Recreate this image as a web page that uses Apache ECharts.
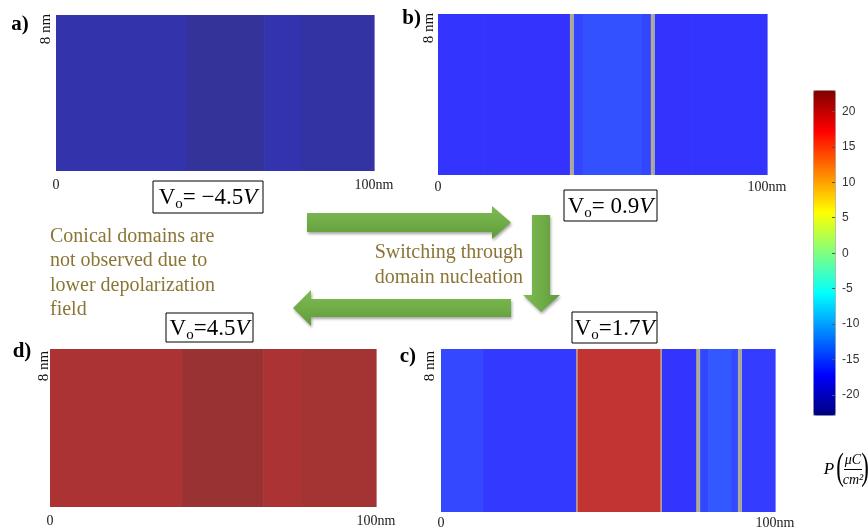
<!DOCTYPE html>
<html><head><meta charset="utf-8">
<script src="https://cdn.jsdelivr.net/npm/echarts@6/dist/echarts.min.js"></script>
<style>html,body{margin:0;padding:0;background:#fff}#c{width:868px;height:531px}</style>
</head><body><div id="c"></div>
<script>
// ---- data ----
const xTickLabels = ['0', '100nm'];           // x axis end labels (0 nm, 100 nm)
const cbTicks = [-20, -15, -10, -5, 0, 5, 10, 15, 20];
const pMin = -22.8, pMax = 23;                // colour scale range, P (uC/cm^2)
// domains: [start nm, end nm, P]
const aDomains = [[0, 41, -21.8], [41, 65.5, -22.8], [65.5, 77, -21.6], [77, 100, -22.2]];
const bDomains = [[0, 14, -17.0], [14, 40.7, -17.2], [40.7, 44, -16.1], [44, 62, -15.4], [62, 65.3, -16.1], [65.3, 77, -17.2], [77, 100, -17.0]];
const cDomains = [[0, 12.7, -15.9], [12.7, 40.7, -16.7], [40.7, 65.9, 20.7], [65.9, 77, -17.0], [77, 80, -16.0], [80, 87, -15.0], [87, 89.5, -15.8], [89.5, 100, -16.6]];
const dDomains = [[0, 40.7, 22.0], [40.7, 65.4, 23], [65.4, 77, 22.0], [77, 100, 22.4]];
const bWalls = [40.7, 65.3];
const cWalls = [77, 89.5];
const cThinWalls = [40.7, 65.9];
const panelLabels = ['a)', 'b)', 'c)', 'd)'];
const voltTexts = ['= −4.5', '= 0.9', '=1.7', '=4.5'];
const noteLeft = ['Conical domains are', 'not observed due to', 'lower depolarization', 'field'];
const noteMid = ['Switching through', 'domain nucleation'];

// ---- layout ----
const grids = [
  {left: 56, top: 15, width: 318, height: 156},
  {left: 438, top: 14, width: 329, height: 161},
  {left: 441, top: 349, width: 334, height: 163},
  {left: 50, top: 349, width: 326, height: 158}
];
const labelMargins = [7, 5, 4, 7];
const domainSets = [aDomains, bDomains, cDomains, dDomains];
const jet = ['#000080', '#0000ff', '#0080ff', '#00ffff', '#80ff80', '#ffff00', '#ff8000', '#ff0000', '#800000'];
const serif = 'Liberation Serif';

function renderDomain(params, api) {
  const tl = api.coord([api.value(0), 8]);
  const br = api.coord([api.value(1), 0]);
  const c = echarts.color.lerp(0.2, [api.visual('color'), '#ffffff']);
  return {type: 'rect', shape: {x: tl[0], y: tl[1], width: br[0] - tl[0] + 0.6, height: br[1] - tl[1]}, style: {fill: c}};
}
function wallRenderer(w, thin) {
  return function (params, api) {
    const tl = api.coord([api.value(0), 8]);
    const br = api.coord([api.value(0), 0]);
    const fill = thin ? '#cfa890' : new echarts.graphic.LinearGradient(0, 0, 1, 0, [
      {offset: 0, color: '#d49a7a'}, {offset: 0.35, color: '#9fb89c'}, {offset: 0.65, color: '#a3a3a0'}, {offset: 1, color: '#b5b5b0'}]);
    return {type: 'rect', shape: {x: tl[0] - w / 2, y: tl[1], width: w, height: br[1] - tl[1]}, style: {fill: fill}};
  };
}

const xAxes = [], yAxes = [], series = [];
grids.forEach((g, i) => {
  xAxes.push({gridIndex: i, type: 'value', min: 0, max: 100, interval: 100,
    axisLine: {show: false}, axisTick: {show: false}, splitLine: {show: false},
    axisLabel: {margin: labelMargins[i], color: '#222', fontFamily: serif, fontSize: 14,
      formatter: v => v === 0 ? xTickLabels[0] : xTickLabels[1]}});
  yAxes.push({gridIndex: i, type: 'value', min: 0, max: 8, show: false});
  series.push({type: 'custom', xAxisIndex: i, yAxisIndex: i, silent: true,
    dimensions: ['x0', 'x1', 'p'], encode: {x: [0, 1]},
    data: domainSets[i], renderItem: renderDomain});
});
series.push({type: 'custom', xAxisIndex: 1, yAxisIndex: 1, silent: true, data: bWalls.map(v => [v]), encode: {x: 0}, renderItem: wallRenderer(4, false)});
series.push({type: 'custom', xAxisIndex: 2, yAxisIndex: 2, silent: true, data: cWalls.map(v => [v]), encode: {x: 0}, renderItem: wallRenderer(4, false)});
series.push({type: 'custom', xAxisIndex: 2, yAxisIndex: 2, silent: true, data: cThinWalls.map(v => [v]), encode: {x: 0}, renderItem: wallRenderer(1.5, true)});

// colourbar tick axis
const cbGrid = {left: 813, top: 90, width: 22, height: 325};
xAxes.push({gridIndex: 4, type: 'value', min: 0, max: 1, show: false});
yAxes.push({gridIndex: 4, type: 'value', min: pMin, max: pMax, position: 'right', z: 20,
  axisLine: {show: false, onZero: false}, splitLine: {show: false},
  axisTick: {show: true, inside: true, length: 3, customValues: cbTicks, lineStyle: {color: '#555'}},
  axisLabel: {customValues: cbTicks, color: '#333', fontFamily: 'Liberation Sans', fontSize: 12, margin: 7}});

// ---- annotations ----
const graphic = [];
const boxes = [
  {x: 153, y: 181, w: 110, h: 32},
  {x: 564, y: 190, w: 93, h: 31},
  {x: 572, y: 312, w: 85, h: 31},
  {x: 166, y: 313, w: 87, h: 29}
];
boxes.forEach((b, i) => {
  graphic.push({type: 'rect', shape: {x: b.x, y: b.y, width: b.w, height: b.h}, style: {fill: '#fff', stroke: '#000', lineWidth: 1}, z: 10});
  graphic.push({type: 'text', x: b.x + b.w / 2, y: b.y + b.h / 2 + 1, z: 11, style: {
    text: '{v|V}{s|o}{m|' + voltTexts[i] + '}{i|V}', align: 'center', verticalAlign: 'middle',
    rich: {
      v: {fontSize: 23, fontFamily: serif, lineHeight: 28, fill: '#000'},
      s: {fontSize: 15, fontFamily: serif, lineHeight: 15, verticalAlign: 'bottom', fill: '#000'},
      m: {fontSize: 23, fontFamily: serif, lineHeight: 28, fill: '#000'},
      i: {fontSize: 23, fontFamily: serif, fontStyle: 'italic', lineHeight: 28, fill: '#000'}
    }}});
});
const plPos = [[20, 25, 'center'], [421, 19, 'right'], [416, 357, 'right'], [22, 352, 'center']];
plPos.forEach((p, i) => graphic.push({type: 'text', x: p[0], y: p[1], style: {text: panelLabels[i], font: 'bold 21px ' + serif, fill: '#000', align: p[2], verticalAlign: 'middle'}}));
const nmPos = [[46, 29], [429, 28], [430, 366], [44, 366]];
nmPos.forEach(p => graphic.push({type: 'text', x: p[0], y: p[1], rotation: Math.PI / 2, style: {text: '8 nm', font: '15px ' + serif, fill: '#111', align: 'center', verticalAlign: 'middle'}}));

const olive = '#8b7536';
graphic.push({type: 'text', x: 50, y: 224, style: {text: noteLeft.join('\n'), font: '20px ' + serif, fill: olive, lineHeight: 24.5, align: 'left', verticalAlign: 'top'}});
graphic.push({type: 'text', x: 523, y: 240, style: {text: noteMid.join('\n'), font: '20px ' + serif, fill: olive, lineHeight: 25, align: 'right', verticalAlign: 'top'}});

function hGrad() { return new echarts.graphic.LinearGradient(0, 0, 0, 1, [{offset: 0, color: '#7fbb52'}, {offset: 0.5, color: '#70ad47'}, {offset: 1, color: '#5e9a3a'}]); }
function vGrad() { return new echarts.graphic.LinearGradient(0, 0, 1, 0, [{offset: 0, color: '#7fbb52'}, {offset: 0.5, color: '#70ad47'}, {offset: 1, color: '#5e9a3a'}]); }
const arrowShadow = {shadowBlur: 3, shadowColor: 'rgba(0,0,0,0.35)', shadowOffsetX: 1, shadowOffsetY: 2};
graphic.push({type: 'polygon', shape: {points: [[307, 213], [492, 213], [492, 206], [511, 222.5], [492, 239], [492, 232], [307, 232]]}, style: Object.assign({fill: hGrad()}, arrowShadow)});
graphic.push({type: 'polygon', shape: {points: [[532, 215], [550, 215], [550, 295], [560, 295], [541, 312], [523, 295], [532, 295]]}, style: Object.assign({fill: vGrad()}, arrowShadow)});
graphic.push({type: 'polygon', shape: {points: [[511, 299], [311, 299], [311, 290], [293, 308], [311, 326], [311, 317], [511, 317]]}, style: Object.assign({fill: hGrad()}, arrowShadow)});

// unit label P(uC/cm^2)
graphic.push({type: 'text', x: 829, y: 470, style: {text: 'P', font: 'italic 17px ' + serif, fill: '#000', align: 'center', verticalAlign: 'middle'}});
graphic.push({type: 'text', x: 840, y: 469, scaleX: 0.6, style: {text: '(', font: '38px ' + serif, fill: '#000', align: 'center', verticalAlign: 'middle'}});
graphic.push({type: 'text', x: 853, y: 460, style: {text: 'μC', font: 'italic 14px ' + serif, fill: '#000', align: 'center', verticalAlign: 'middle'}});
graphic.push({type: 'line', shape: {x1: 844, y1: 469.5, x2: 862, y2: 469.5}, style: {stroke: '#000', lineWidth: 1}});
graphic.push({type: 'text', x: 853, y: 480, style: {text: 'cm²', font: 'italic 14px ' + serif, fill: '#000', align: 'center', verticalAlign: 'middle'}});
graphic.push({type: 'text', x: 865, y: 469, scaleX: 0.6, style: {text: ')', font: '38px ' + serif, fill: '#000', align: 'center', verticalAlign: 'middle'}});

const chart = echarts.init(document.getElementById('c'), null, {renderer: 'canvas'});
chart.setOption({
  backgroundColor: '#fff',
  animation: false,
  grid: grids.concat([cbGrid]).map(g => Object.assign({containLabel: false}, g)),
  xAxis: xAxes,
  yAxis: yAxes,
  visualMap: [{type: 'continuous', min: pMin, max: pMax, dimension: 2, seriesIndex: [0, 1, 2, 3],
    left: cbGrid.left, top: cbGrid.top, itemWidth: 22, itemHeight: 325, calculable: false, hoverLink: false,
    padding: 0, borderWidth: 1, borderColor: '#aaa', inRange: {color: jet}, text: null}],
  series: series,
  graphic: graphic
});
</script></body></html>
